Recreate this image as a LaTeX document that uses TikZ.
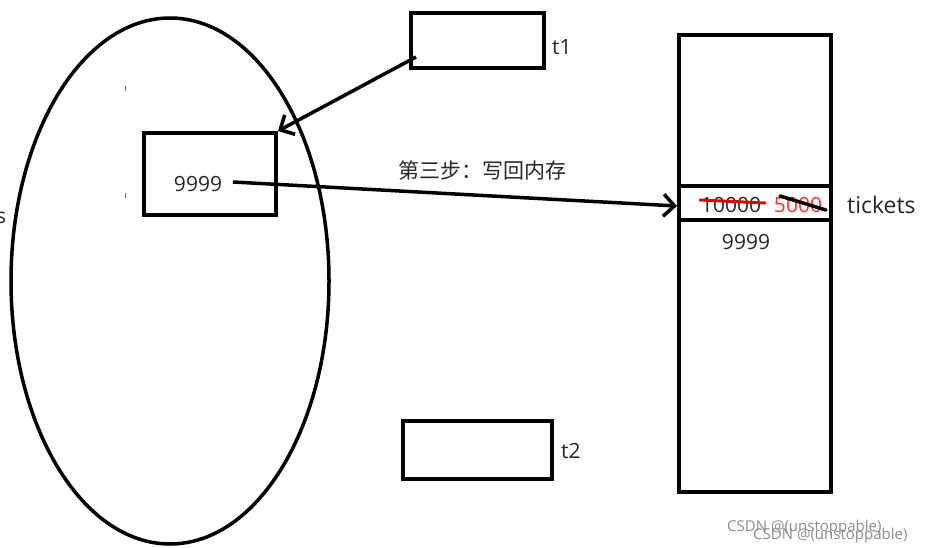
\documentclass[tikz,border=0pt]{standalone}
\usepackage{fontspec}
\setmainfont{Open Sans}
\newfontfamily\cjk{Noto Sans CJK SC}
\usetikzlibrary{arrows.meta}
\begin{document}
\begin{tikzpicture}[x=1pt,y=-1pt,
  box/.style={draw,line width=4pt,inner sep=0pt},
  lbl/.style={font=\fontsize{21}{23}\selectfont,text=black!85,inner sep=0pt},
  conn/.style={line width=3.5pt,-{Straight Barb[length=11pt,width=22pt,line width=3.5pt]}},
  wm/.style={font=\fontsize{15}{16}\selectfont,text=black!45,inner sep=0pt}]
\useasboundingbox (0,0) rectangle (925,548);
% thread ellipse
\draw[line width=3.5pt] (170,281) ellipse [x radius=159,y radius=263];
\node[box,minimum width=132pt,minimum height=82pt] (inner) at (210,174) {};
\node[lbl] (v1) at (198,184) {9999};
\coordinate (v1e) at (233,182);
% t1, t2
\node[box,minimum width=133pt,minimum height=55pt] (t1) at (477.5,40.5) {};
\node[lbl,anchor=west] (t1l) at (552,47) {t1};
\node[box,minimum width=149pt,minimum height=58pt] (t2) at (477.5,450) {};
\node[lbl,anchor=west] (t2l) at (561,451) {t2};
% memory
\node[box,minimum width=152pt,minimum height=457pt] (mem) at (755,263.5) {};
\node[box,minimum width=152pt,minimum height=34pt] (cell) at (755,203) {};
\node[lbl] (old) at (731,205) {10000};
\node[lbl,text=red!80] (new) at (798,205) {5000};
\node[lbl] (v2) at (746,242) {9999};
\node[lbl,anchor=west,font=\fontsize{23}{25}\selectfont] (tk) at (847,205) {tickets};
\draw[red!85!black,line width=3pt,line cap=round] ([xshift=-31pt,yshift=5pt]old.center) -- ([xshift=34pt,yshift=2pt]old.center);
\draw[line width=3.5pt,line cap=round] ([xshift=-18pt,yshift=9pt]new.center) -- ([xshift=28pt,yshift=-5pt]new.center);
% connectors
\coordinate (t1s) at (416,57);
\draw[conn] (t1s) -- (inner.north east);
\coordinate (cellw) at (677,206);
\draw[conn] (v1e) -- (cellw);
\node[font=\cjk\fontsize{21}{23}\selectfont,text=black!85,inner sep=0pt] (step) at (482,170) {第三步：写回内存};
% small marks and clipped label
\node[lbl,anchor=west] (s) at (-4,218) {s};
\draw[black!60,line width=1pt] (125,86) -- (125,91);
\draw[black!60,line width=1pt] (125,193) -- (125,198);
% watermark
\node[wm,anchor=west] (w1) at (727,528) {CSDN @(unstoppable)};
\node[wm,anchor=west] (w2) at (753,536) {CSDN @(unstoppable)};
\end{tikzpicture}
\end{document}
